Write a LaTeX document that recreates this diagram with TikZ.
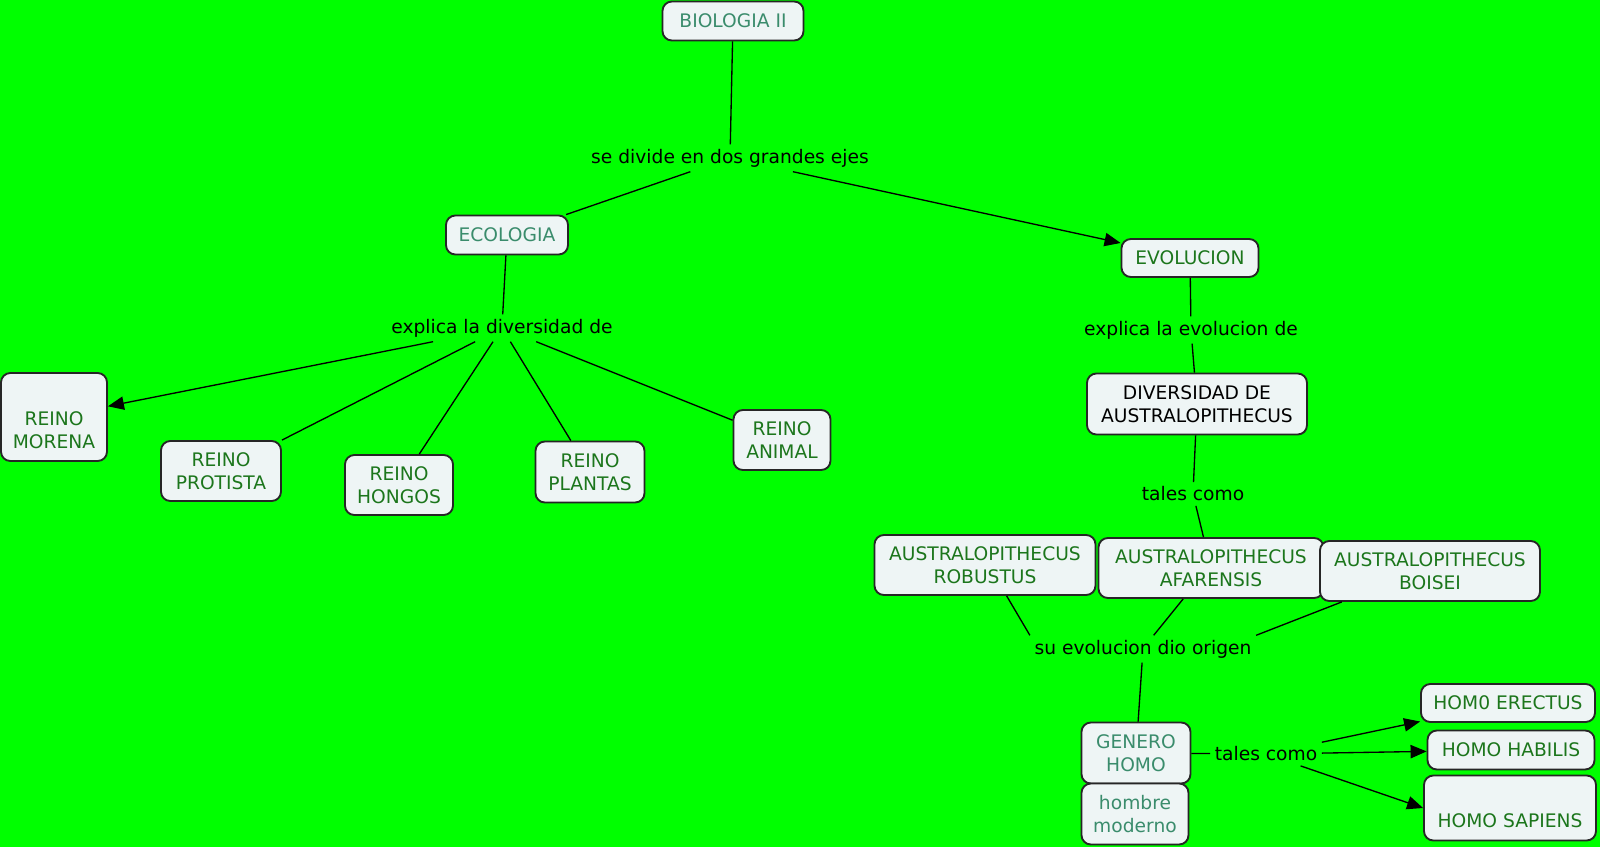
\documentclass[tikz,border=0pt]{standalone}
\usepackage{fontspec}
\setmainfont{DejaVu Sans}
\usetikzlibrary{arrows.meta}

\definecolor{mapgreen}{RGB}{0,255,0}
\definecolor{boxfill}{RGB}{238,245,245}
\definecolor{textgreen}{RGB}{28,118,28}
\definecolor{textteal}{RGB}{58,140,108}

\begin{document}
\begin{tikzpicture}[
  x=0.75pt, y=-0.75pt,
  line width=1pt,
  concept/.style={draw=black!85, fill=boxfill, rounded corners=7pt, line width=1.4pt, align=center, text=textgreen, inner sep=2pt, font=\fontsize{14}{17.6}\selectfont},
  link/.style={align=center, inner sep=3pt, font=\fontsize{14}{17.6}\selectfont},
  arrow/.style={-{Triangle[length=12pt,width=10pt]}}
]

\useasboundingbox (0,0) rectangle (1600,847);
\fill[mapgreen] (0,0) rectangle (1600,847);

\node[concept, text=textteal, minimum width=105.75pt, minimum height=29.25pt] (bio) at (733,21) {BIOLOGIA II};
\node[link] (divide) at (730,158) {se divide en dos grandes ejes};
\node[concept, text=textteal, minimum width=91.5pt, minimum height=29.25pt] (eco) at (507,235) {ECOLOGIA};
\node[concept, minimum width=102.75pt, minimum height=28.5pt] (evo) at (1190,258) {EVOLUCION};

\node[link] (explicadiv) at (502,328) {explica la diversidad de};
\node[concept, minimum width=79.5pt, minimum height=66pt] (morena) at (54,417) {\strut\\REINO\\MORENA};
\node[concept, minimum width=90pt, minimum height=45pt] (protista) at (221,471) {REINO\\PROTISTA};
\node[concept, minimum width=81pt, minimum height=45pt] (hongos) at (399,485) {REINO\\HONGOS};
\node[concept, minimum width=81.75pt, minimum height=45.75pt] (plantas) at (590,472) {REINO\\PLANTAS};
\node[concept, minimum width=72.75pt, minimum height=45pt] (animal) at (782,440) {REINO\\ANIMAL};

\node[link] (explicaevo) at (1191,330) {explica la evolucion de};
\node[concept, text=black, minimum width=165pt, minimum height=45.75pt] (diversidad) at (1197,404) {DIVERSIDAD DE\\AUSTRALOPITHECUS};
\node[link] (talescomo) at (1193,494) {tales como};
\node[concept, minimum width=165.75pt, minimum height=45pt] (robustus) at (985,565) {AUSTRALOPITHECUS\\ROBUSTUS};
\node[concept, minimum width=168.75pt, minimum height=45pt] (afarensis) at (1211,568) {AUSTRALOPITHECUS\\AFARENSIS};
\node[concept, minimum width=165pt, minimum height=45pt] (boisei) at (1430,571) {AUSTRALOPITHECUS\\BOISEI};

\node[link] (origen) at (1143,649) {su evolucion dio origen};
\node[concept, text=textteal, minimum width=81.75pt, minimum height=45.75pt] (genero) at (1136,753) {GENERO\\HOMO};
\node[concept, text=textteal, minimum width=80.25pt, minimum height=45.75pt] (hombre) at (1135,814) {hombre\\moderno};
\node[link] (talescomob) at (1266,754) {tales como};
\node[concept, minimum width=130.5pt, minimum height=28.5pt] (erectus) at (1508,703) {HOM0 ERECTUS};
\node[concept, minimum width=125.25pt, minimum height=29.25pt] (habilis) at (1511,750) {HOMO HABILIS};
\node[concept, minimum width=129pt, minimum height=48.75pt] (sapiens) at (1510,808) {\strut\\HOMO SAPIENS};

% biologia
\draw (bio) -- (divide);
\draw (divide) -- (eco);
\draw[arrow] (divide) -- (evo);

% ecologia
\draw (eco) -- (explicadiv);
\draw[arrow] (explicadiv) -- (morena);
\draw (explicadiv) -- (protista);
\draw (explicadiv) -- (hongos);
\draw (explicadiv) -- (plantas);
\draw (explicadiv) -- (animal);

% evolucion
\draw (evo) -- (explicaevo);
\draw (explicaevo) -- (diversidad);
\draw (diversidad) -- (talescomo);
\draw (talescomo) -- (afarensis);
\draw (robustus.-55) -- (origen.north west);
\draw (afarensis.-132) -- ([xshift=8pt]origen.north);
\draw ([xshift=17pt]boisei.south west) -- (origen.north east);
\draw (origen) -- (genero);
\draw (genero) -- (talescomob);
\draw[arrow] (talescomob) -- (erectus);
\draw[arrow] (talescomob) -- (habilis);
\draw[arrow] (talescomob) -- (sapiens.west);

\end{tikzpicture}
\end{document}
